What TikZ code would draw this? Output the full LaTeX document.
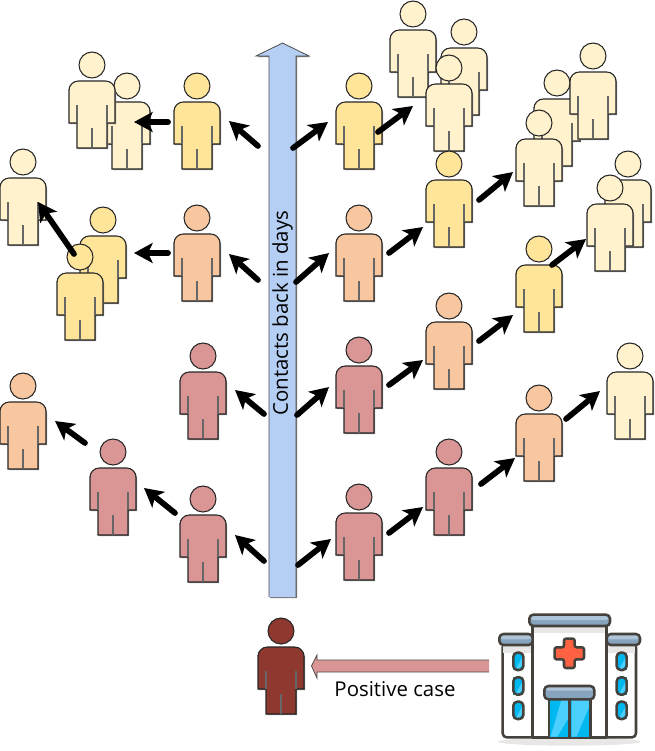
\documentclass[tikz,border=0pt]{standalone}
\usepackage{fontspec}
\setmainfont{Open Sans}
\usetikzlibrary{arrows.meta}

\definecolor{creamfill}{HTML}{FFF2CC}
\definecolor{yellowfill}{HTML}{FFE599}
\definecolor{orangefill}{HTML}{F8C79F}
\definecolor{redfill}{HTML}{D99694}
\definecolor{casefill}{HTML}{8F3830}
\definecolor{bluefill}{HTML}{B5CEF3}
\definecolor{wallline}{HTML}{45413C}
\definecolor{roofblue}{HTML}{87A4BE}
\definecolor{roofpale}{HTML}{ADC4D9}
\definecolor{glass}{HTML}{00B8F0}
\definecolor{glasspale}{HTML}{4ACFFF}
\definecolor{crossred}{HTML}{FF6242}
\definecolor{wallshade}{HTML}{E8E7E6}

\tikzset{
    person/.pic={
        % grey offset behind the figure
        \fill[black!45, shift={(1,1)}] (-23,58) -- (-23,24) [rounded corners=7] -- (-23,16) -- (23,16) [sharp corners] -- (23,58) -- (15,58) -- (15,83) -- (-15,83) -- (-15,58) -- cycle;
        % body and head
        \filldraw[fill=#1, draw=black!85, line width=0.8pt] (-23,58) -- (-23,24) [rounded corners=7] -- (-23,16) -- (23,16) [sharp corners] -- (23,58) -- (15,58) -- (15,83) -- (-15,83) -- (-15,58) -- cycle;
        \filldraw[fill=#1, draw=black!85, line width=0.8pt] (0,0) circle [radius=13];
        % arm and leg lines
        \draw[black!60, line width=0.9pt] (-15,40) -- (-15,58) (15,40) -- (15,58) (0,63) -- (0,83);
    },
    contactarrow/.style={line width=4.3pt, black, line cap=round, -{Stealth[length=14pt, width=15pt, inset=3.5pt]}},
    hospital/.style={draw=wallline, line width=1.9pt, line join=round},
    label/.style={font=\fontsize{15.3}{18}\selectfont, inner sep=0pt}
}

\begin{document}
\begin{tikzpicture}[x=0.75pt, y=-0.75pt]
    \useasboundingbox (0,0) rectangle (655,751);

    % Draw the people, back to front
    \foreach \name/\px/\py/\col in {
        top1/413/14/creamfill, top2/464/32/creamfill, top3/449/68/creamfill,
        up1/557/83/creamfill, up2/593/56/creamfill, up3/539/123/creamfill,
        mid1/628/164/creamfill, mid2/610/188/creamfill,
        low1/630/356/creamfill,
        left2/127/86/creamfill, left1/92/65/creamfill, far1/23/162/creamfill,
        r1/359/86/yellowfill, r2/449/164/yellowfill, r3/539/249/yellowfill,
        l1/197/86/yellowfill, pair1/103/220/yellowfill, pair2/80/257/yellowfill,
        r4/359/218/orangefill, r5/449/306/orangefill, r6/539/398/orangefill,
        l2/197/218/orangefill, far2/23/386/orangefill,
        r7/359/350/redfill, r8/449/452/redfill, r9/359/497/redfill,
        l3/203/356/redfill, l4/203/499/redfill, l5/113/452/redfill,
        index/281/631/casefill}
        \pic (\name) at (\px,\py) {person=\col};

    % Draw the days arrow
    \fill[black!55, shift={(1.2,1.2)}] (269,597) -- (269,56) -- (256,56) -- (282.5,43) -- (309,56) -- (296,56) -- (296,597) -- cycle;
    \fill[bluefill] (269,597) -- (269,56) -- (256,56) -- (282.5,43) -- (309,56) -- (296,56) -- (296,597) -- cycle;
    \draw[black!70, line width=0.6pt] (269,597) -- (269,56) -- (256,56) -- (282.5,43) -- (309,56) -- (296,56) -- (296,597);
    \node[label, rotate=90] (days) at (282.5,313) {Contacts back in days};

    % Draw the contact arrows
    \foreach \n/\ax/\ay/\bx/\by in {
        1/293/148/328/122, 2/378/132/413/106,
        3/296/282/329/253, 4/389/253/423/227, 5/479/200/513/172,
        6/297/415/329/387, 7/389/385/423/360, 8/479/341/513/315, 9/552/265/586/239,
        10/298/565/331/539, 11/389/533/423/507, 12/481/484/515/458, 13/566/419/600/391,
        14/258/146/229/121, 15/168/122/134/122,
        16/258/280/229/254, 17/168/253/134/253, 18/74/254/38/202,
        19/264/414/235/390,
        20/264/561/235/535, 21/175/513/144/488, 22/85/443/55/421} {
        \coordinate (from\n) at (\ax,\ay);
        \coordinate (to\n) at (\bx,\by);
        \draw[contactarrow] (from\n) -- (to\n);
    }

    % Draw the positive case arrow and its label
    \filldraw[fill=redfill, draw=black!70, line width=0.6pt] (489,660) -- (317,660) -- (317,655) -- (311.5,666) -- (317,678) -- (317,672) -- (489,672);
    \node[label] (positive) at (395,689) {Positive case};

    % Draw the hospital
    \begin{scope}[shift={(480,600)}, x=0.25pt, y=-0.25pt]
        \fill[wallshade] (268,425) ellipse [x radius=215, y radius=12];
        \draw[hospital, fill=white, rounded corners=3pt] (158,130) -- (68,130) -- (68,412) -- (468,412) -- (468,130) -- (380,130);
        \fill[wallshade] (70,135) rectangle (156,158);
        \fill[wallshade] (382,135) rectangle (466,158);
        \draw[hospital, fill=white] (158,75) rectangle (380,412);
        \fill[wallshade] (162,78) rectangle (376,98);
        % roofs
        \foreach \rx/\ry/\rxx/\ryy in {148/44/390/78, 58/102/158/135, 380/102/480/135} {
            \fill[roofblue, rounded corners=3pt] (\rx,\ry) rectangle (\rxx,\ryy);
            \fill[roofpale, rounded corners=3pt] (\rx,\ry) rectangle (\rxx,\ry+16);
            \draw[hospital, rounded corners=3pt] (\rx,\ry) rectangle (\rxx,\ryy);
        }
        % red cross
        \draw[hospital, fill=crossred, rounded corners=1.5pt] (252,116) -- (284,116) -- (284,142) -- (312,142) -- (312,178) -- (284,178) -- (284,204) -- (252,204) -- (252,178) -- (224,178) -- (224,142) -- (252,142) -- cycle;
        % windows
        \foreach \wx in {100,410} {
            \foreach \wy in {158,232,305} {
                \fill[glass] (\wx,\wy) rectangle (\wx+30,\wy+52);
                \fill[glasspale] (\wx+30,\wy+8) -- (\wx+30,\wy+34) -- (\wx+14,\wy+52) -- (\wx+6,\wy+52) -- cycle;
                \draw[hospital, rounded corners=3pt] (\wx,\wy) rectangle (\wx+30,\wy+52);
            }
        }
        % door
        \fill[glass] (207,296) rectangle (332,410);
        \fill[glasspale] (245,296) -- (268,296) -- (268,350) -- (232,410) -- (212,410) -- cycle;
        \fill[glasspale] (275,296) -- (332,296) -- (332,310) -- (290,410) -- (275,410) -- cycle;
        \draw[hospital] (207,296) -- (207,410) (332,296) -- (332,410) (268,296) -- (268,410);
        \fill[roofblue, rounded corners=3pt] (193,258) rectangle (343,298);
        \fill[roofpale, rounded corners=3pt] (193,258) rectangle (343,272);
        \draw[hospital, rounded corners=3pt] (193,258) rectangle (343,298);
    \end{scope}
\end{tikzpicture}
\end{document}
